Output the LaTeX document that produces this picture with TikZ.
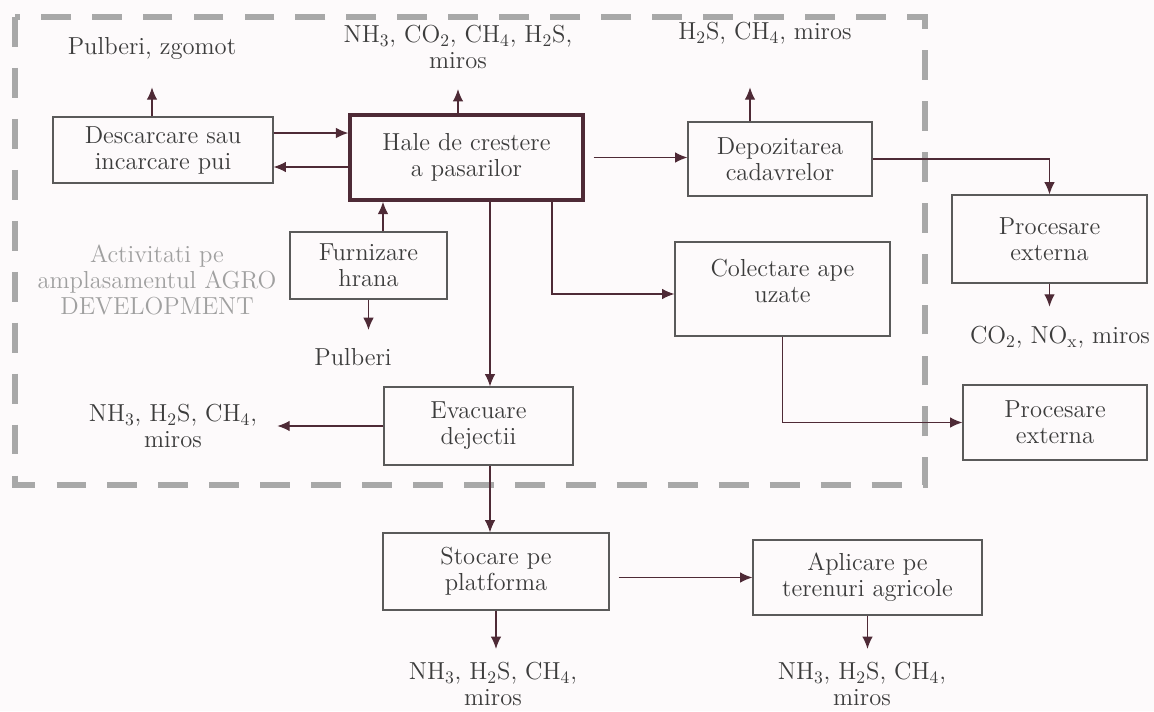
\documentclass[tikz,border=0pt]{standalone}
\usepackage{tikz}
\usetikzlibrary{arrows.meta,positioning,calc}
\definecolor{arrowc}{HTML}{4E2A36}
\definecolor{boxc}{HTML}{5A5A5A}
\definecolor{txtc}{HTML}{3C3C3C}
\definecolor{zonec}{HTML}{A8A8A8}
\definecolor{notec}{HTML}{A0A0A0}
\definecolor{paper}{HTML}{FDFAFB}

\begin{document}
\begin{tikzpicture}[x=0.02cm, y=-0.02cm,
    every node/.style={font=\fontsize{14}{14.8}\selectfont, text=txtc, align=center},
    proc/.style={draw=boxc, line width=0.7pt, inner sep=2pt},
    main/.style={draw=arrowc, line width=2pt},
    emis/.style={inner sep=0pt},
    flow/.style={draw=arrowc, line width=0.7pt, -{Latex[length=7pt,width=6pt]}},
    zone/.style={draw=zonec, line width=3pt, dash pattern=on 17pt off 12pt}]

    % Page
    \path[use as bounding box, fill=paper] (0,0) rectangle (1154,711);

    % Site boundary
    \draw[zone] (15,17) rectangle (925,485);
    \node[text=notec] (site) at (157,280) {Activitati pe\\amplasamentul AGRO\\DEVELOPMENT};

    % Activities
    \node[proc, minimum width=4.4cm, minimum height=1.32cm] (descarc) at (163,150) {Descarcare sau\\incarcare pui};
    \node[proc, main, minimum width=4.66cm, minimum height=1.7cm] (hale) at (466.5,157.5) {Hale de crestere\\a pasarilor};
    \node[proc, minimum width=3.68cm, minimum height=1.48cm] (depoz) at (780,159) {Depozitarea\\cadavrelor};
    \node[proc, minimum width=3.9cm, minimum height=1.76cm] (proc1) at (1049.5,239) {Procesare\\externa};
    \node[proc, minimum width=4.3cm, minimum height=1.88cm] (colect) at (782.5,289) {Colectare ape\\uzate\\[-6pt]\mbox{}};
    \node[proc, minimum width=3.14cm, minimum height=1.34cm] (furniz) at (368.5,265.5) {Furnizare\\hrana};
    \node[proc, minimum width=3.78cm, minimum height=1.56cm] (evac) at (478.5,426) {Evacuare\\dejectii};
    \node[proc, minimum width=3.68cm, minimum height=1.5cm] (proc2) at (1055,422.5) {Procesare\\externa};
    \node[proc, minimum width=4.52cm, minimum height=1.54cm] (stoc) at (496,571.5) {Stocare pe\\platforma};
    \node[proc, minimum width=4.58cm, minimum height=1.5cm] (aplic) at (867.5,577.5) {Aplicare pe\\terenuri agricole};

    % Emissions
    \node[emis] (t_desc) at (152,48) {Pulberi, zgomot};
    \node[emis] (t_hale) at (458,47) {NH$_3$, CO$_2$, CH$_4$, H$_2$S,\\miros};
    \node[emis] (t_depoz) at (765,33) {H$_2$S, CH$_4$, miros};
    \node[emis] (t_furn) at (353,357) {Pulberi};
    \node[emis] (t_proc) at (1060,337) {CO$_2$, NO$_{\mathrm{x}}$, miros};
    \node[emis] (t_evac) at (173,426) {NH$_3$, H$_2$S, CH$_4$,\\miros};
    \node[emis] (t_stoc) at (493,684) {NH$_3$, H$_2$S, CH$_4$,\\miros};
    \node[emis] (t_aplic) at (862,684) {NH$_3$, H$_2$S, CH$_4$,\\miros};

    % Emission arrows
    \draw[flow, shorten >=0.56cm] (descarc.north -| t_desc) -- (t_desc.south);
    \draw[flow, shorten >=0.4cm] (hale.north -| t_hale) -- (t_hale.south);
    \draw[flow, shorten >=0.86cm] ([xshift=-0.6cm]depoz.north) -- ([xshift=-0.6cm]depoz.north |- t_depoz.south);
    \draw[flow, shorten >=0.36cm] (furniz.south) -- (furniz.south |- t_furn.north);
    \draw[flow, shorten >=0.38cm] (proc1.south) -- (proc1.south |- t_proc.north);
    \draw[flow, shorten >=0.4cm] (evac.west) -- (evac.west -| t_evac.east);
    \draw[flow, shorten >=0.26cm] (stoc.south) -- (stoc.south |- t_stoc.north);
    \draw[flow, shorten >=0.26cm] (aplic.south) -- (aplic.south |- t_aplic.north);

    % Flows between activities
    \draw[flow] ([yshift=0.34cm]descarc.east) -- ([yshift=0.34cm]descarc.east -| hale.west);
    \draw[flow] ([yshift=-0.34cm]descarc.east -| hale.west) -- ([yshift=-0.34cm]descarc.east);
    \draw[flow] ([xshift=0.29cm]furniz.north) -- ([xshift=0.29cm]furniz.north |- hale.south);
    \draw[flow, shorten <=0.18cm] (hale.east) -- (hale.east -| depoz.west);
    \draw[flow] (depoz.east) -| (proc1.north);
    \draw[flow] ([xshift=1.71cm]hale.south) |- ([yshift=-0.1cm]colect.west);
    \draw[flow] (colect.south) |- (proc2.west);
    \draw[flow] ([xshift=0.47cm]hale.south) -- ([xshift=0.47cm]hale.south |- evac.north);
    \draw[flow] ([xshift=0.23cm]evac.south) -- ([xshift=0.23cm]evac.south |- stoc.north);
    \draw[flow, shorten <=0.18cm] ([yshift=-0.12cm]stoc.east) -- ([yshift=-0.12cm]stoc.east -| aplic.west);
\end{tikzpicture}
\end{document}
